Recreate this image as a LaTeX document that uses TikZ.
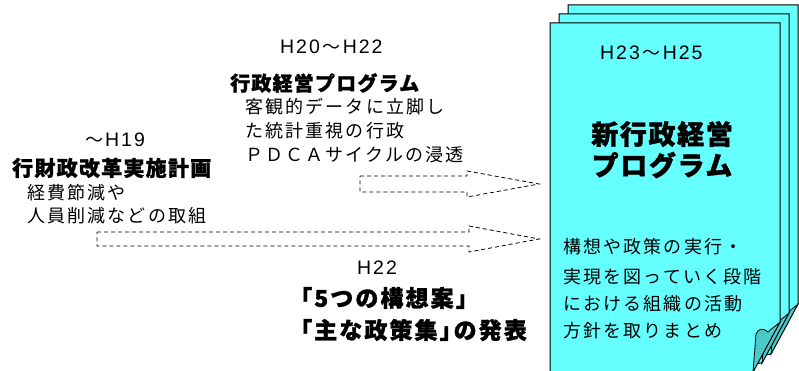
\documentclass[tikz,border=0pt]{standalone}
\usepackage{fontspec}
\newfontfamily\jp[LetterSpace=12]{Noto Sans CJK JP}
\newfontfamily\jpb[LetterSpace=6,BoldFeatures={FakeBold=1.2}]{Noto Sans CJK JP}
\newfontfamily\jpbc[LetterSpace=9,BoldFeatures={FakeBold=1.2}]{Noto Sans CJK JP}
\newfontfamily\latf[LetterSpace=10]{Liberation Sans}
\definecolor{pagecyan}{HTML}{66FFFF}
\definecolor{flapteal}{HTML}{4CC8C8}
\tikzset{
  txt/.style={anchor=west, inner sep=0pt, font=\jp\fontsize{18}{18}\selectfont},
  bld/.style={anchor=west, inner sep=0pt, font=\jpb\bfseries\fontsize{20}{20}\selectfont},
  bldw/.style={anchor=west, inner sep=0pt, font=\jpb\bfseries\fontsize{21}{21}\selectfont},
  bldc/.style={anchor=west, inner sep=0pt, font=\jpbc\bfseries\fontsize{23}{23}\selectfont},
  big/.style={anchor=center, inner sep=0pt, font=\jpb\bfseries\fontsize{27}{27}\selectfont},
  pageshape/.style={draw=black, fill=pagecyan, line width=1pt, line join=miter},
  flapshape/.style={draw=black, fill=flapteal, line width=0.8pt},
  dasharrow/.style={draw=black, line width=0.8pt, dash pattern=on 4pt off 3pt}
}
\newcommand{\Lt}[1]{{\latf\fontsize{19.5}{19.5}\selectfont #1}}
\newcommand{\Wv}{\kern3pt～\kern2pt}
\begin{document}
\begin{tikzpicture}[x=1pt,y=-1pt]
\useasboundingbox (0,0) rectangle (799,371);
\clip (0,0) rectangle (799,371);
% page stack
\foreach \d in {18,9,0}{
  \path[pageshape] (550+\d,23-\d) -- (780+\d,23-\d) -- (780+\d,322-\d) -- (753+\d,372-\d) -- (550+\d,380) -- cycle;
  \path[flapshape] (753+\d,372-\d) -- (756+\d,334-\d) .. controls (758+\d,328-\d) and (764+\d,328-\d) .. (768+\d,332-\d) .. controls (772+\d,328-\d) and (777+\d,325-\d) .. (780+\d,322-\d) -- cycle;
}
% arrows
\coordinate (a1s) at (360,184);
\coordinate (a1e) at (539,184);
\coordinate (a2s) at (97,239);
\coordinate (a2e) at (539,239);
\path[dasharrow] ([yshift=8pt]a1s) -- (467,176) -- (467,171) -- (a1e) -- (467,197) -- (467,192) -- ([yshift=-8pt]a1s) -- cycle;
\path[dasharrow] ([yshift=7pt]a2s) -- (469,232) -- (469,226) -- (a2e) -- (469,252) -- (469,246) -- ([yshift=-7pt]a2s) -- cycle;
% left texts
\node[txt] (h2022) at (280,47) {\Lt{H20}\Wv\Lt{H22}};
\node[bld] (prog) at (230,83) {行政経営プログラム};
\node[txt] (l1) at (245,107) {客観的データに立脚し};
\node[txt] (l2) at (245,131) {た統計重視の行政};
\node[txt] (l3) at (245,155) {ＰＤＣＡサイクルの浸透};
\node[txt] (h19) at (85,140) {～\kern2pt\Lt{H19}};
\node[bldw] (zai) at (12,168) {行財政改革実施計画};
\node[txt] (k1) at (27,193) {経費節減や};
\node[txt] (k2) at (27,216) {人員削減などの取組};
\node[txt] (h22) at (357,268) {\Lt{H22}};
\node[bldc] (c1) at (289,298) {「5つの構想案」};
\node[bldc] (c2) at (289,330) {「主な政策集」\kern-9pt の発表};
% page texts
\node[txt] (h2325) at (600,53) {\Lt{H23}\Wv\Lt{H25}};
\node[big] (t1) at (662,134) {新行政経営};
\node[big] (t2) at (662,165) {プログラム};
\node[txt] (p1) at (563,247) {構想や政策の実行・};
\node[txt] (p2) at (563,277) {実現を図っていく段階};
\node[txt] (p3) at (563,304) {における組織の活動};
\node[txt] (p4) at (563,331) {方針を取りまとめ};
\end{tikzpicture}
\end{document}
